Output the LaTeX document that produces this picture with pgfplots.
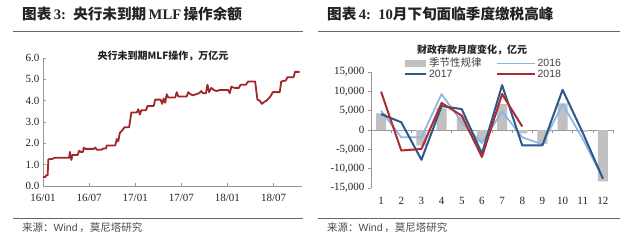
\documentclass[border=0pt]{standalone}
\usepackage{fontspec}
\usepackage{pgfplots}
\pgfplotsset{compat=1.18}
\setmainfont{Liberation Serif}
\newfontfamily\cjk{Noto Sans CJK SC}
\newfontfamily\arial{Liberation Sans}
\definecolor{mlf}{RGB}{160,38,42}
\definecolor{barg}{RGB}{192,192,192}
\definecolor{c16}{RGB}{141,180,226}
\definecolor{c17}{RGB}{44,88,140}
\definecolor{c18}{RGB}{172,44,50}
\definecolor{axg}{RGB}{150,150,150}
\definecolor{txt}{RGB}{35,35,35}
\begin{document}
\begin{tikzpicture}
\useasboundingbox (0pt,0pt) rectangle (620pt,244pt);
\fill[white] (0pt,0pt) rectangle (620pt,244pt);
% headers
\node[anchor=west, inner sep=0pt, text=txt] at (22pt,230pt) {\fontsize{14.6}{15}\selectfont{\cjk\bfseries 图表}\,{\bfseries 3:}\ \ {\cjk\bfseries 央行未到期}\,{\bfseries MLF}\,{\cjk\bfseries 操作余额}};
\node[anchor=west, inner sep=0pt, text=txt] at (327pt,230pt) {\fontsize{14.6}{15}\selectfont{\cjk\bfseries 图表}\,{\bfseries 4:}\ \ {\bfseries 10}{\cjk\bfseries 月下旬面临季度缴税高峰}};
\draw[line width=0.8pt, black!60] (13pt,213pt) -- (303pt,213pt);
\draw[line width=0.8pt, black!60] (318pt,213pt) -- (620pt,213pt);
\draw[line width=0.8pt, black!60] (13pt,26pt) -- (303pt,26pt);
\draw[line width=0.8pt, black!60] (318pt,26pt) -- (620pt,26pt);
\node[anchor=west, inner sep=0pt, text=black!70] at (22pt,16pt) {\fontsize{10.5}{10.5}\selectfont{\cjk 来源：}{\arial Wind}\,{\cjk ，莫尼塔研究}};
\node[anchor=west, inner sep=0pt, text=black!70] at (327pt,16pt) {\fontsize{10.5}{10.5}\selectfont{\cjk 来源：}{\arial Wind}\,{\cjk ，莫尼塔研究}};
% chart titles
\node[inner sep=0pt, text=txt] at (163pt,188pt) {\fontsize{10}{10}\selectfont\cjk\bfseries 央行未到期MLF操作，万亿元};
\node[inner sep=0pt, text=txt] at (472pt,194pt) {\fontsize{10}{10}\selectfont\cjk\bfseries 财政存款月度变化，亿元};

\begin{axis}[
  at={(43pt,58pt)}, anchor=south west, scale only axis,
  width=259pt, height=128pt,
  axis x line*=bottom, axis y line*=left,
  axis line style={axg, line width=0.6pt, -},
  xmin=0, xmax=33.7, ymin=0, ymax=6,
  xtick={0,6,12,18,24,30},
  xticklabels={16/01,16/07,17/01,17/07,18/01,18/07},
  ytick={0,1,2,3,4,5,6},
  yticklabel style={/pgf/number format/.cd, fixed, fixed zerofill, precision=1},
  /pgf/number format/assume math mode=true,
  tick label style={font=\fontsize{11}{11}\selectfont, text=txt},
  xticklabel style={yshift=-5pt},
  tick align=inside, major tick length=3pt,
  tick style={axg, line width=0.6pt},
  clip=false,
]
\addplot[mlf, line width=1.8pt, line join=round] coordinates {
(0,0.42) (0.3,0.42) (0.4,0.5) (0.6,0.5) (0.7,1.25) (1.2,1.27) (1.5,1.32) (3.4,1.32)
(3.5,1.6) (3.6,1.35) (3.7,1.22) (3.8,1.45) (4.5,1.45) (4.7,1.65) (4.9,1.6) (5.2,1.6)
(5.3,1.8) (5.5,1.74) (6.6,1.74) (6.8,1.8) (7.0,1.7) (7.6,1.7) (7.8,1.75) (8.2,1.76)
(8.3,1.9) (9.4,1.9) (9.6,2.2) (9.8,2.1) (10.0,2.5) (10.3,2.6) (10.6,2.75) (11.2,2.75)
(11.5,3.45) (12.2,3.45) (12.4,3.6) (12.6,3.35) (12.8,3.55) (13.4,3.55) (13.6,3.75)
(14.4,3.75) (14.6,4.05) (15.3,4.05) (15.5,3.85) (15.7,4.1) (15.9,3.9) (16.1,4.3)
(16.3,4.15) (17.2,4.15) (17.4,4.4) (17.6,4.2) (18.7,4.2) (18.9,4.4) (19.2,4.3)
(19.5,4.25) (19.9,4.3) (20.3,4.35) (20.6,4.45) (20.8,4.35) (21.2,4.35) (21.4,4.75)
(21.6,4.4) (21.9,4.6) (22.2,4.5) (22.6,4.45) (23.0,4.5) (24.1,4.5) (24.3,4.35)
(24.5,4.65) (24.9,4.6) (25.5,4.6) (25.7,4.75) (26.4,4.75) (26.7,4.9) (27.6,4.9)
(27.9,4.05) (28.2,4.0) (28.5,3.85) (28.8,3.95) (29.1,4.0) (29.6,4.2) (29.9,4.4)
(30.8,4.4) (31.0,4.9) (31.6,4.95) (31.8,5.1) (32.6,5.1) (32.8,5.35) (33.4,5.35)
};
\end{axis}

\begin{axis}[
  at={(371pt,56pt)}, anchor=south west, scale only axis,
  width=242pt, height=116pt,
  axis x line*=bottom, axis y line*=left,
  axis line style={axg, line width=0.6pt, -},
  x axis line style={draw=none},
  xmin=0.5, xmax=12.5, ymin=-15000, ymax=15000,
  xtick={1,...,12}, xtick style={draw=none},
  ytick={-15000,-10000,-5000,0,5000,10000,15000},
  scaled y ticks=false,
  yticklabel style={/pgf/number format/.cd, 1000 sep={,}},
  /pgf/number format/assume math mode=true,
  tick label style={font=\fontsize{11}{11}\selectfont, text=txt},
  xticklabel style={yshift=-6pt},
  ytick align=outside, major tick length=3pt,
  ytick style={axg, line width=0.6pt},
  clip=false,
  legend columns=2,
  legend cell align=left,
  legend style={at={(0.136,1.112)}, anchor=north west, draw=none, fill=none,
    inner xsep=0pt, inner ysep=0pt,
    font=\fontsize{10.5}{10.5}\selectfont\arial, text=black!75,
    nodes={inner ysep=0pt, inner xsep=2pt, text height=7.5pt, text depth=1pt},
    row sep=2.5pt,
    /tikz/every even column/.append style={column sep=12pt}},
]
\draw[axg, line width=0.6pt] (axis cs:0.5,0) -- (axis cs:12.5,0);
\pgfplotsinvokeforeach{1.5,2.5,...,12.5}{\draw[axg, line width=0.6pt] (axis cs:#1,0) -- ++(0pt,-3pt);}
\addplot[ybar, bar width=10pt, fill=barg, draw=none,
  legend image code/.code={\fill[barg] (0pt,-3.5pt) rectangle (21pt,3.5pt);}]
  coordinates {(1,4300) (2,0) (3,-4000) (4,5600) (5,3500) (6,-3000) (7,6700) (8,-900) (9,-3600) (10,6900) (11,-400) (12,-13300)};
\addlegendentry{\cjk 季节性规律}
\addplot[c16, line width=1.7pt, sharp plot, line join=round,
  legend image code/.code={\draw[c16, line width=1.7pt] (0pt,0pt) -- (38pt,0pt);}]
  coordinates {(1,5000) (2,-1900) (3,-1900) (4,9300) (5,2000) (6,-3400) (7,4800) (8,-1900) (9,-3700) (10,6700) (11,-2300) (12,-12500)};
\addlegendentry{2016}
\addplot[c17, line width=2pt, sharp plot, line join=round,
  legend image code/.code={\draw[c17, line width=2pt] (0pt,0pt) -- (21pt,0pt);}]
  coordinates {(1,4100) (2,2000) (3,-7700) (4,6200) (5,5400) (6,-6100) (7,11600) (8,-4000) (9,-4000) (10,10400) (11,-700) (12,-12600)};
\addlegendentry{2017}
\addplot[c18, line width=2pt, sharp plot, line join=round,
  legend image code/.code={\draw[c18, line width=2pt] (0pt,0pt) -- (38pt,0pt);}]
  coordinates {(1,9900) (2,-5300) (3,-4900) (4,7000) (5,3700) (6,-7000) (7,9300) (8,900)};
\addlegendentry{2018}
\end{axis}
\end{tikzpicture}
\end{document}
